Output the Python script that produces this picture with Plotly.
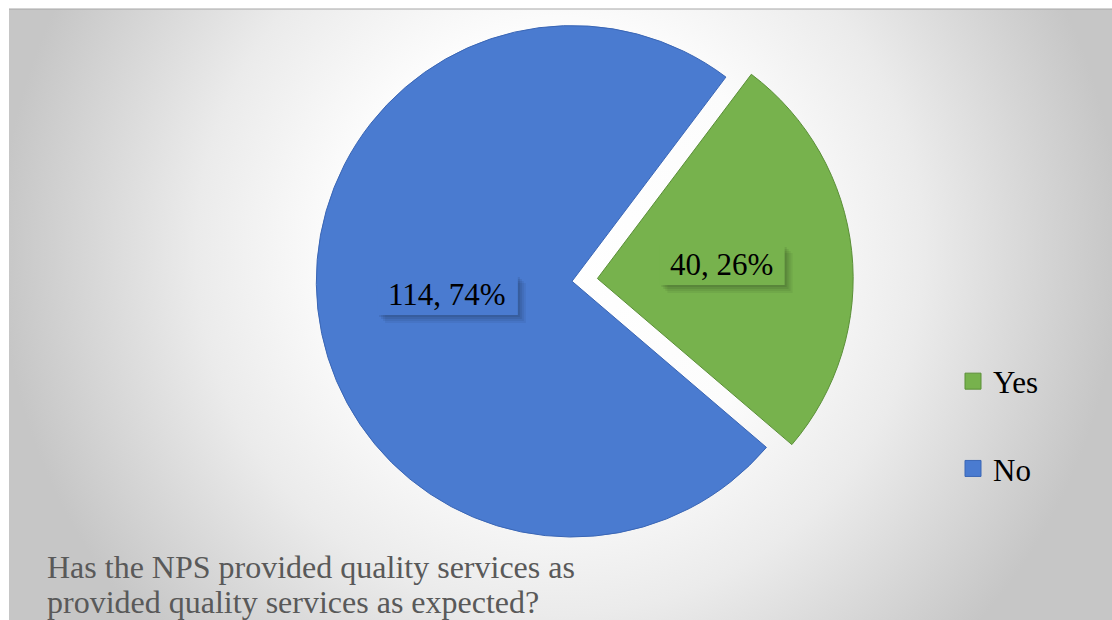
import math
import plotly.graph_objects as go

# Survey responses
categories = ["Yes", "No"]
counts = [40, 114]
slice_colors = ["#77b24d", "#4a7bd0"]
edge_colors = ["#5a8f37", "#3a66b5"]
title_lines = [
    "Has the NPS provided quality services as",
    "provided quality services as expected?",
]

W, H = 1112, 620
SERIF = "Liberation Serif, Times New Roman, serif"
LABEL_SIZE = 31

ROTATION = 37
PULL = [0.10, 0]
DOMAIN_X = [0.2612, 0.7676]
DOMAIN_Y = [0.0926, 1.0]

fig = go.Figure()

# Soft radial backdrop for the chart area (pixel-like axes, clipped to the area)
fig.add_trace(go.Scatter(
    x=[0, 1120, 1120, 0, 0],
    y=[-310, -310, 810, 810, -310],
    mode="lines",
    line=dict(width=0),
    fill="toself",
    fillgradient=dict(
        type="radial",
        colorscale=[[0, "#ffffff"], [0.4, "#fcfcfc"], [0.65, "#ebebeb"], [1, "#c6c6c6"]],
    ),
    hoverinfo="skip",
    showlegend=False,
))

# The pie itself, with the "Yes" slice pulled out
fig.add_trace(go.Pie(
    labels=categories,
    values=counts,
    sort=False,
    direction="clockwise",
    rotation=ROTATION,
    pull=PULL,
    marker=dict(colors=slice_colors, line=dict(color=edge_colors, width=1)),
    textinfo="none",
    domain=dict(x=DOMAIN_X, y=DOMAIN_Y),
    showlegend=False,
    hoverinfo="label+value+percent",
))

# Legend entries
for name, col, edge in zip(categories, slice_colors, edge_colors):
    fig.add_trace(go.Scatter(
        x=[None], y=[None], mode="markers", name=name,
        legendgroup=name,
        marker=dict(symbol="square", size=16, color=col, line=dict(color=edge, width=1)),
    ))

# Pie geometry in pixels (same rule plotly uses to size a pie in its domain)
box_w = W * (DOMAIN_X[1] - DOMAIN_X[0])
box_h = H * (DOMAIN_Y[1] - DOMAIN_Y[0])
radius = min(box_w, box_h) / (2 + 2 * max(PULL))
cx = W * (DOMAIN_X[0] + DOMAIN_X[1]) / 2
cy = H * (1 - DOMAIN_Y[0]) - box_h / 2

# Rough Times-style advance widths (em) for the label glyphs
GLYPH_EM = {",": 0.25, " ": 0.25, "%": 0.833}


def text_width(s, size):
    return sum(GLYPH_EM.get(ch, 0.5) for ch in s) * size


annotations = []
shapes = []
total = sum(counts)
cum = 0
for v, col, pull in zip(counts, slice_colors, PULL):
    mid = math.radians(ROTATION + 360 * (cum + v / 2) / total)
    cum += v
    ux, uy = math.sin(mid), -math.cos(mid)
    px = cx + ux * radius * (pull + 0.49)
    py = cy + uy * radius * (pull + 0.49)
    label = f"{v}, {round(100 * v / total)}%"
    bw = text_width(label, LABEL_SIZE) + 22
    bh = 40
    # soft drop shadow under the label box
    for off, op in [(8, 0.05), (6, 0.06), (4, 0.07), (2, 0.08)]:
        shapes.append(dict(
            type="rect", xref="paper", yref="paper", layer="above",
            x0=(px - bw / 2 + off) / W, x1=(px + bw / 2 + off) / W,
            y0=1 - (py + bh / 2 + off) / H, y1=1 - (py - bh / 2 + off) / H,
            fillcolor="black", opacity=op, line=dict(width=0),
        ))
    shapes.append(dict(
        type="rect", xref="paper", yref="paper", layer="above",
        x0=(px - bw / 2) / W, x1=(px + bw / 2) / W,
        y0=1 - (py + bh / 2) / H, y1=1 - (py - bh / 2) / H,
        fillcolor=col, line=dict(width=0),
    ))
    annotations.append(dict(
        text=label, xref="paper", yref="paper",
        x=px / W, y=1 - py / H, xanchor="center", yanchor="middle",
        showarrow=False,
        font=dict(family=SERIF, size=LABEL_SIZE, color="black"),
    ))

for i, line in enumerate(title_lines):
    annotations.append(dict(
        text=line, xref="paper", yref="paper",
        x=45 / W, y=1 - (567 + 35 * i) / H,
        xanchor="left", yanchor="middle", showarrow=False,
        font=dict(family=SERIF, size=32, color="#595959"),
    ))

shapes.append(dict(type="line", xref="paper", yref="paper",
                   x0=9 / W, x1=1, y0=1 - 9 / H, y1=1 - 9 / H,
                   line=dict(color="#a6a6a6", width=1)))

fig.update_layout(
    width=W, height=H,
    margin=dict(l=0, r=0, t=0, b=0),
    paper_bgcolor="white",
    plot_bgcolor="rgba(0,0,0,0)",
    xaxis=dict(range=[9, 1112], domain=[9 / W, 1], visible=False, fixedrange=True),
    yaxis=dict(range=[620, 9], domain=[0, 1 - 9 / H], visible=False, fixedrange=True),
    legend=dict(
        x=953 / W, y=1 - 425 / H, xanchor="left", yanchor="middle",
        font=dict(family=SERIF, size=31, color="black"),
        bgcolor="rgba(0,0,0,0)",
        tracegroupgap=44,
        itemwidth=30,
    ),
    annotations=annotations,
    shapes=shapes,
)

fig.write_html("out.html")
